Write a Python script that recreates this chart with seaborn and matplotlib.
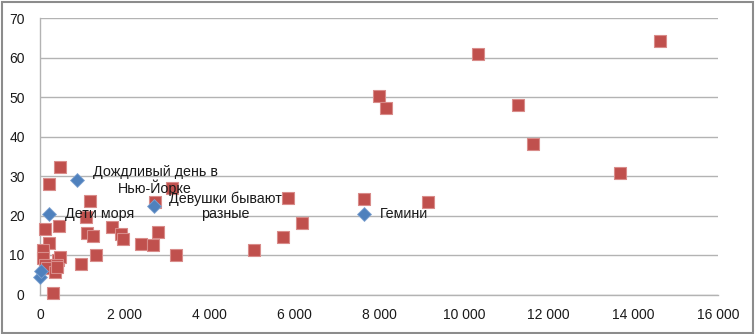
import matplotlib
matplotlib.use("Agg")
import matplotlib.pyplot as plt
import matplotlib.ticker as mticker
from matplotlib.patches import Rectangle
import seaborn as sns
import pandas as pd

# Films: audience (x) against rating score (y)
red_x = [10330, 14640, 8000, 8170, 11290, 11640, 13680, 7640, 9160, 6180,
         470, 210, 1180, 3120, 2710, 5850, 1090, 460, 120, 1120,
         1240, 1690, 1900, 1950, 2790, 2380, 2660, 1330, 3200, 5050,
         5740, 960, 300, 210, 60, 80, 120, 160, 350, 430,
         470, 410, 400]
red_y = [61.0, 64.2, 50.2, 47.3, 48.1, 38.1, 30.8, 24.3, 23.4, 18.0,
         32.2, 28.1, 23.7, 26.9, 23.5, 24.5, 19.7, 17.3, 16.6, 15.5,
         14.8, 17.0, 15.3, 14.0, 15.9, 12.7, 12.5, 10.0, 10.0, 11.3,
         14.6, 7.7, 0.3, 13.1, 11.3, 9.2, 7.5, 6.6, 5.8, 8.7,
         9.6, 7.5, 7.0]

blue_x = [880, 220, 2690, 7650, 0, 20]
blue_y = [28.9, 20.4, 22.4, 20.3, 4.5, 6.0]
blue_labels = ["Дождливый день в\nНью-Йорке", "Дети моря", "Девушки бывают\nразные", "Гемини", "", ""]

x_ticks = [0, 2000, 4000, 6000, 8000, 10000, 12000, 14000, 16000]
y_ticks = [0, 10, 20, 30, 40, 50, 60, 70]

RED = "#C0504D"
BLUE = "#4F81BD"
GRID = "#B3B3B3"

sns.set_style("white")
plt.rcParams["font.family"] = ["Liberation Sans", "DejaVu Sans"]

fig = plt.figure(figsize=(7.56, 3.34), dpi=100)
ax = fig.add_axes([40 / 756, 1 - 294.5 / 334, (718 - 40) / 756, (294.5 - 18) / 334])

red_df = pd.DataFrame({"x": red_x, "y": red_y})
blue_df = pd.DataFrame({"x": blue_x, "y": blue_y})

sns.scatterplot(data=red_df, x="x", y="y", marker="s", s=85, color=RED,
                edgecolor="#D98C8A", linewidth=0.8, ax=ax, zorder=3, clip_on=False)
sns.scatterplot(data=blue_df, x="x", y="y", marker="D", s=50, color=BLUE,
                edgecolor="#7FA3D1", linewidth=0.6, ax=ax, zorder=4, clip_on=False)

for x, y, lab in zip(blue_x, blue_y, blue_labels):
    if lab:
        ax.annotate(lab, (x, y), xytext=(11, 0), textcoords="offset points",
                    ha="left", va="center", multialignment="center",
                    fontsize=10.3, color="#1A1A1A", zorder=5, linespacing=1.05)

ax.set_xlim(0, 16000)
ax.set_ylim(0, 70)
ax.set_xticks(x_ticks)
ax.set_yticks(y_ticks)
ax.xaxis.set_major_formatter(mticker.FuncFormatter(
    lambda v, p: f"{int(v):,}".replace(",", " ")))
ax.set_xlabel("")
ax.set_ylabel("")

ax.grid(axis="y", color=GRID, linewidth=1.0)
ax.grid(axis="x", visible=False)
ax.set_axisbelow(True)
for side in ["top", "right"]:
    ax.spines[side].set_visible(False)
for side in ["left", "bottom"]:
    ax.spines[side].set_color(GRID)
    ax.spines[side].set_linewidth(1.0)

ax.tick_params(axis="both", which="major", direction="out", length=4, width=1,
               color=GRID, labelsize=10, labelcolor="#1A1A1A")
ax.tick_params(axis="y", pad=7)
ax.tick_params(axis="x", pad=6)

# chart border
fig.patches.append(Rectangle((0.002, 0.004), 0.994, 0.99, transform=fig.transFigure,
                             fill=False, edgecolor="#8C8C8C", linewidth=1.5))

fig.savefig("out.png", dpi=100)
